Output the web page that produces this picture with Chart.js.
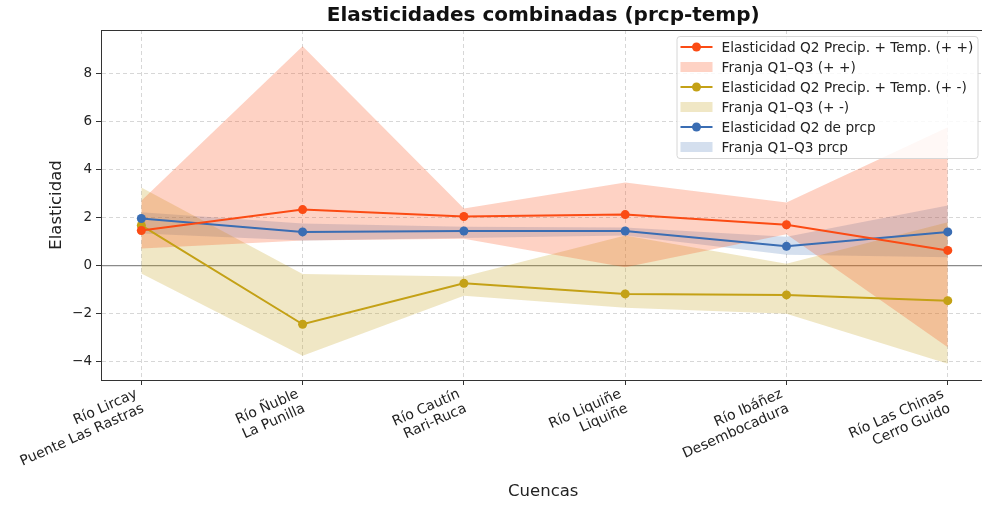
<!DOCTYPE html>
<html>
<head>
<meta charset="utf-8">
<script src="https://cdn.jsdelivr.net/npm/chart.js@4.4.1/dist/chart.umd.min.js"></script>
<style>
  html, body { margin: 0; padding: 0; background: #fff; overflow: hidden; }
  canvas { display: block; }
</style>
</head>
<body>
<canvas id="chart" width="990" height="505"></canvas>
<script>
const chartTitle = "Elasticidades combinadas (prcp-temp)";
const categories = [
  ["Río Lircay", "Puente Las Rastras"],
  ["Río Ñuble", "La Punilla"],
  ["Río Cautín", "Rari-Ruca"],
  ["Río Liquiñe", "Liquiñe"],
  ["Río Ibáñez", "Desembocadura"],
  ["Río Las Chinas", "Cerro Guido"]
];

// (+ +) precip + temp
const ppQ2 = [1.46, 2.33, 2.04, 2.12, 1.70, 0.63];
const ppQ1 = [0.71, 1.04, 1.12, -0.07, 1.30, -3.40];
const ppQ3 = [2.70, 9.12, 2.37, 3.46, 2.62, 5.75];

// (+ -) precip + temp
const pmQ2 = [1.67, -2.44, -0.74, -1.18, -1.22, -1.46];
const pmQ1 = [-0.33, -3.75, -1.25, -1.75, -2.00, -4.08];
const pmQ3 = [3.25, -0.35, -0.45, 1.25, 0.08, 1.80];

// solo prcp
const prQ2 = [1.96, 1.40, 1.44, 1.44, 0.80, 1.40];
const prQ1 = [1.33, 1.04, 1.15, 1.25, 0.45, 0.35];
const prQ3 = [2.22, 1.75, 1.62, 1.58, 1.20, 2.50];

const yTicks = [-4, -2, 0, 2, 4, 6, 8];

const legendLabels = [
  "Elasticidad Q2 Precip. + Temp. (+ +)",
  "Franja Q1–Q3 (+ +)",
  "Elasticidad Q2 Precip. + Temp. (+ -)",
  "Franja Q1–Q3 (+ -)",
  "Elasticidad Q2 de prcp",
  "Franja Q1–Q3 prcp"
];

const ORANGE = "#fb4b14";
const ORANGE_BAND = "rgba(251, 75, 20, 0.25)";
const GOLD = "#c4a116";
const GOLD_BAND = "rgba(196, 161, 22, 0.25)";
const BLUE = "#3a6db3";
const BLUE_BAND = "rgba(58, 109, 179, 0.22)";

const FONT = "'DejaVu Sans', sans-serif";

const pts = (arr) => arr.map((v, i) => ({ x: i, y: v }));

function band(arr, color, fill) {
  return {
    data: pts(arr),
    borderWidth: 0,
    pointRadius: 0,
    backgroundColor: color,
    fill: fill
  };
}

function line(arr, color) {
  return {
    data: pts(arr),
    borderColor: color,
    backgroundColor: color,
    borderWidth: 2,
    pointRadius: 4.5,
    pointBorderWidth: 0,
    fill: false
  };
}

const legendItems = [
  { type: "line", color: ORANGE },
  { type: "patch", color: ORANGE_BAND },
  { type: "line", color: GOLD },
  { type: "patch", color: GOLD_BAND },
  { type: "line", color: BLUE },
  { type: "patch", color: BLUE_BAND }
];

const decorations = {
  id: "decorations",
  beforeDatasetsDraw(chart) {
    const { ctx, chartArea, scales } = chart;
    const y0 = scales.y.getPixelForValue(0);
    ctx.save();
    ctx.strokeStyle = "#8a8a8a";
    ctx.lineWidth = 1.3;
    ctx.beginPath();
    ctx.moveTo(chartArea.left, y0);
    ctx.lineTo(chartArea.right, y0);
    ctx.stroke();
    ctx.restore();
  },
  afterDraw(chart) {
    const { ctx, chartArea, scales } = chart;
    ctx.save();
    // axes frame
    ctx.strokeStyle = "#333";
    ctx.lineWidth = 1;
    ctx.strokeRect(chartArea.left + 0.5, chartArea.top + 0.5, chartArea.right - chartArea.left, chartArea.bottom - chartArea.top);

    // title, centred on the axes
    ctx.fillStyle = "#111";
    ctx.font = "bold 20px " + FONT;
    ctx.textAlign = "center";
    ctx.textBaseline = "middle";
    ctx.fillText(chartTitle, (chartArea.left + chartArea.right) / 2, 16);

    // rotated category labels (right aligned, block's right edge on the tick)
    ctx.font = "14px " + FONT;
    ctx.fillStyle = "#222";
    ctx.textAlign = "right";
    ctx.textBaseline = "top";
    const lh = 16;
    const rot = 24 * Math.PI / 180;
    categories.forEach((lines, i) => {
      const x = scales.x.getPixelForValue(i);
      const shift = lh * (lines.length - 1) * Math.sin(rot) + 1;
      ctx.save();
      ctx.translate(x - shift, chartArea.bottom + 7);
      ctx.rotate(-rot);
      lines.forEach((t, k) => ctx.fillText(t, 0, k * lh));
      ctx.restore();
    });

    // legend
    const bx = chartArea.right - 309;
    const by = chartArea.top + 6;
    const bw = 301;
    const bh = 122;
    ctx.fillStyle = "rgba(255,255,255,0.85)";
    ctx.strokeStyle = "#d6d6d6";
    ctx.lineWidth = 1;
    ctx.beginPath();
    ctx.roundRect(bx + 0.5, by + 0.5, bw, bh, 3);
    ctx.fill();
    ctx.stroke();

    ctx.font = "13.7px " + FONT;
    ctx.textBaseline = "middle";
    ctx.textAlign = "left";
    legendItems.forEach((item, i) => {
      const cy = by + 11 + i * 20;
      const hx = bx + 4;
      if (item.type === "line") {
        ctx.strokeStyle = item.color;
        ctx.lineWidth = 2;
        ctx.beginPath();
        ctx.moveTo(hx, cy);
        ctx.lineTo(hx + 32, cy);
        ctx.stroke();
        ctx.fillStyle = item.color;
        ctx.beginPath();
        ctx.arc(hx + 16, cy, 4.5, 0, Math.PI * 2);
        ctx.fill();
      } else {
        ctx.fillStyle = item.color;
        ctx.fillRect(hx, cy - 5, 32, 10);
      }
      ctx.fillStyle = "#222";
      ctx.fillText(legendLabels[i], hx + 41, cy + 1);
    });
    ctx.restore();
  }
};

Chart.defaults.font.family = FONT;
Chart.defaults.color = "#222";

const ctx = document.getElementById("chart").getContext("2d");
new Chart(ctx, {
  type: "line",
  data: {
    datasets: [
      line(ppQ2, ORANGE),
      line(prQ2, BLUE),
      line(pmQ2, GOLD),
      band(ppQ3, ORANGE_BAND, false),
      band(ppQ1, ORANGE_BAND, "-1"),
      band(pmQ3, GOLD_BAND, false),
      band(pmQ1, GOLD_BAND, "-1"),
      band(prQ3, BLUE_BAND, false),
      band(prQ1, BLUE_BAND, "-1")
    ]
  },
  options: {
    responsive: false,
    animation: false,
    layout: { padding: { left: 45, right: 0, top: 30, bottom: 0 } },
    plugins: {
      legend: { display: false },
      tooltip: { enabled: false },
      title: { display: false }
    },
    scales: {
      x: {
        type: "linear",
        min: -0.25,
        max: 5.234,
        afterBuildTicks(scale) {
          scale.ticks = categories.map((_, i) => ({ value: i }));
        },
        afterFit(scale) {
          scale.height = 125;
        },
        ticks: {
          display: false,
          autoSkip: false
        },
        grid: {
          color: "rgba(0,0,0,0.2)",
          lineWidth: 0.8,
          tickLength: 5,
          tickColor: "#333",
          tickWidth: 1
        },
        border: { display: true, color: "#333", width: 1, dash: [4, 3] },
        title: {
          display: true,
          text: "Cuencas",
          font: { size: 16.5 },
          color: "#222",
          padding: { top: 4, bottom: 3 }
        }
      },
      y: {
        type: "linear",
        min: -4.76,
        max: 9.8,
        afterBuildTicks(scale) {
          scale.ticks = yTicks.map((v) => ({ value: v }));
        },
        afterFit(scale) {
          scale.width = 56;
        },
        ticks: {
          padding: 4,
          font: { size: 13.5 },
          color: "#222",
          callback(value) {
            return value < 0 ? "\u2212" + Math.abs(value) : String(value);
          }
        },
        grid: {
          color: "rgba(0,0,0,0.2)",
          lineWidth: 0.8,
          tickLength: 5,
          tickColor: "#333",
          tickWidth: 1
        },
        border: { display: true, color: "#333", width: 1, dash: [4, 3] },
        title: {
          display: true,
          text: "Elasticidad",
          font: { size: 16.5 },
          color: "#222",
          padding: { top: 2, bottom: 4 }
        }
      }
    }
  },
  plugins: [decorations]
});
</script>
</body>
</html>
